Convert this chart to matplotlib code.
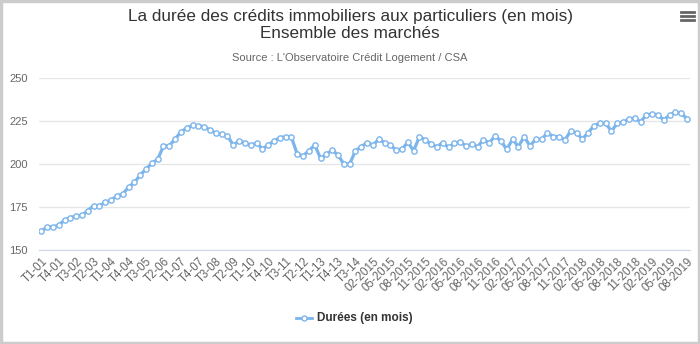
import numpy as np
from matplotlib import pyplot as plt
from matplotlib.patches import Rectangle
from matplotlib.lines import Line2D

# Categories: quarterly 2001-2014, then monthly 2015 -> 08-2019
quarters = ["T%d-%02d" % (q, y) for y in range(1, 15) for q in range(1, 5)]
months = ["%02d-%d" % (m, y) for y in range(2015, 2020) for m in range(1, 13)]
months = months[:months.index("08-2019") + 1]
categories = quarters + months

# Durées (en mois)
durees = [160.9, 163.5, 163.3, 164.5, 167.4, 168.8, 169.8, 170.2, 172.9, 175.8,
          175.8, 177.7, 179.1, 181.4, 182.6, 186.5, 189.3, 193.6, 197.0, 200.5,
          202.7, 210.5, 210.5, 214.6, 218.6, 221.0, 222.5, 222.3, 221.6, 219.8,
          217.8, 217.4, 216.3, 211.0, 213.4, 212.4, 210.8, 212.2, 208.7, 211.0,
          213.4, 215.3, 215.9, 215.5, 205.6, 204.8, 207.7, 211.0, 203.3, 205.6,
          208.1, 205.2, 200.0, 200.0, 207.7, 210.1, 212.4, 211.0, 214.3, 212.4,
          211.0, 208.1, 208.7, 212.6, 207.7, 215.9, 214.0, 211.4, 210.1, 212.4,
          209.7, 212.0, 213.0, 210.3, 211.6, 210.1, 214.0, 212.4, 216.3, 213.4,
          208.5, 214.3, 210.1, 215.9, 210.5, 214.5, 214.3, 218.2, 215.9, 215.9,
          214.0, 219.2, 218.2, 214.5, 218.2, 222.3, 223.6, 223.6, 219.2, 223.6,
          224.2, 226.2, 226.6, 224.6, 228.5, 229.1, 228.5, 225.6, 228.5, 230.0,
          229.5, 226.2]

y_ticks = [150, 175, 200, 225, 250]
label_step = 3

plt.rcParams['font.family'] = ['Liberation Sans', 'DejaVu Sans']

fig = plt.figure(figsize=(7, 3.44), dpi=100)
ax = fig.add_axes([0.0557, 0.2733, 0.93, 0.5])

x = np.arange(len(categories))
ax.plot(x, durees, color='#7cb5ec', linewidth=2.3, marker='o', markersize=3.8,
        markerfacecolor='white', markeredgecolor='#7cb5ec', markeredgewidth=1,
        zorder=3)

ax.set_xlim(-0.4, len(categories) - 0.5)
ax.set_ylim(150, 250)
ax.set_yticks(y_ticks)
ax.yaxis.grid(True, color='#e6e6e6', linewidth=1)
ax.set_axisbelow(True)
for s in ['top', 'right', 'left']:
    ax.spines[s].set_visible(False)
ax.spines['bottom'].set_color('#ccd6eb')
ax.tick_params(axis='y', length=0, labelsize=8, labelcolor='#666666', pad=8)
ax.tick_params(axis='x', length=0, labelsize=8.3, labelcolor='#666666', pad=4)
ax.set_xticks(x[::label_step])
ax.set_xticklabels(categories[::label_step], rotation=45, ha='right',
                   rotation_mode='anchor')

# Titles
fig.text(0.5, 1 - 17 / 344, "La durée des crédits immobiliers aux particuliers (en mois)",
         ha='center', va='center', fontsize=12.3, color='#333333')
fig.text(0.5, 1 - 34 / 344, "Ensemble des marchés",
         ha='center', va='center', fontsize=12.3, color='#333333')
fig.text(0.5, 1 - 58 / 344, "Source : L'Observatoire Crédit Logement / CSA",
         ha='center', va='center', fontsize=8, color='#666666')

# Legend
lx, ly = 304 / 700, 1 - 318 / 344
fig.add_artist(Line2D([lx - 0.011, lx + 0.011], [ly, ly], color='#7cb5ec',
                      linewidth=2, transform=fig.transFigure))
fig.add_artist(Line2D([lx], [ly], marker='o', markersize=3.6, markerfacecolor='white',
                      markeredgecolor='#7cb5ec', transform=fig.transFigure))
fig.text(lx + 0.018, ly, "Durées (en mois)", ha='left', va='center',
         fontsize=8.5, fontweight='bold', color='#333333')

# Menu icon
for dy in (12, 16, 20):
    yy = 1 - dy / 344
    fig.add_artist(Line2D([681 / 700, 694 / 700], [yy, yy], color='#666666',
                          linewidth=2, transform=fig.transFigure))

# Border
fig.add_artist(Rectangle((0.002, 0.003), 0.996, 0.994, transform=fig.transFigure,
                         fill=False, edgecolor='#cccccc', linewidth=2.5))

fig.savefig("out.png", dpi=100)
